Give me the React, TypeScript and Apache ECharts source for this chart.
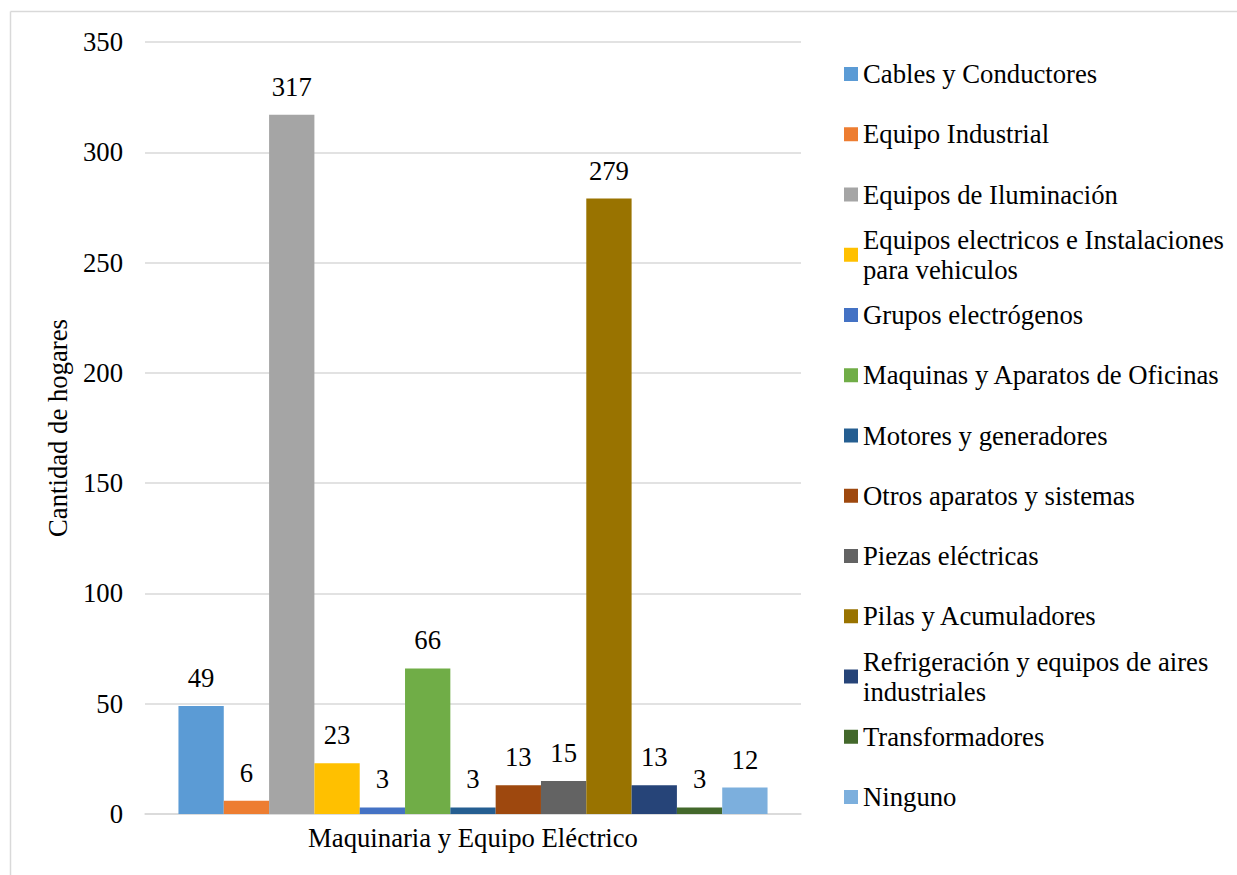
import React, { useEffect, useRef } from "react";
import * as echarts from "echarts";

const categories = ["Maquinaria y Equipo Eléctrico"];
const seriesNames = [
  "Cables y Conductores",
  "Equipo Industrial",
  "Equipos de Iluminación",
  "Equipos electricos e Instalaciones para vehiculos",
  "Grupos electrógenos",
  "Maquinas y Aparatos de Oficinas",
  "Motores y generadores",
  "Otros aparatos y sistemas",
  "Piezas eléctricas",
  "Pilas y Acumuladores",
  "Refrigeración y equipos de aires industriales",
  "Transformadores",
  "Ninguno",
];
const seriesValues = [49, 6, 317, 23, 3, 66, 3, 13, 15, 279, 13, 3, 12];
const legendLines: string[][] = [
  ["Cables y Conductores"],
  ["Equipo Industrial"],
  ["Equipos de Iluminación"],
  ["Equipos electricos e Instalaciones", "para vehiculos"],
  ["Grupos electrógenos"],
  ["Maquinas y Aparatos de Oficinas"],
  ["Motores y generadores"],
  ["Otros aparatos y sistemas"],
  ["Piezas eléctricas"],
  ["Pilas y Acumuladores"],
  ["Refrigeración y equipos de aires", "industriales"],
  ["Transformadores"],
  ["Ninguno"],
];
const colors = [
  "#5B9BD5",
  "#ED7D31",
  "#A5A5A5",
  "#FFC000",
  "#4472C4",
  "#70AD47",
  "#255E91",
  "#9E480E",
  "#636363",
  "#997300",
  "#264478",
  "#43682B",
  "#7CAFDD",
];
const yTicks = { min: 0, max: 350, interval: 50 };
const yAxisTitle = "Cantidad de hogares";

const FONT = "Liberation Serif, Times New Roman, serif";
const FS = 26.7;

export default function App() {
  const ref = useRef<HTMLDivElement>(null);
  useEffect(() => {
    if (!ref.current) return;
    const chart = echarts.init(ref.current, undefined, { renderer: "svg" });
    const legendTop0 = 74;
    const pitch = 60.25;
    const lineH = 30;
    const legends = seriesNames.map((name, i) => {
      const lines = legendLines[i];
      const multi = lines.length > 1;
      const center = legendTop0 + i * pitch;
      return {
        show: true,
        left: 844,
        top: multi ? center - 45 : center - lineH / 2,
        orient: "vertical",
        data: [name],
        itemWidth: 14,
        itemHeight: 14,
        itemGap: 0,
        padding: 0,
        icon: "rect",
        selectedMode: false,
        formatter: () => lines.join("\n"),
        textStyle: {
          fontFamily: FONT,
          fontSize: FS,
          color: "#000",
          lineHeight: lineH,
          padding: multi ? [lineH, 0, 0, 0] : 0,
        },
      };
    });
    chart.setOption({
      animation: false,
      backgroundColor: "#fff",
      textStyle: { fontFamily: FONT },
      graphic: [
        {
          type: "line",
          shape: { x1: 10.5, y1: 11.5, x2: 1240, y2: 11.5 },
          style: { stroke: "#d9d9d9", lineWidth: 1.5 },
          silent: true,
        },
        {
          type: "line",
          shape: { x1: 10.5, y1: 11.5, x2: 10.5, y2: 880 },
          style: { stroke: "#d9d9d9", lineWidth: 1.5 },
          silent: true,
        },
      ],
      legend: legends,
      grid: { left: 145, right: 436, top: 42, bottom: 61 },
      xAxis: {
        type: "category",
        data: categories,
        axisLine: { show: true, lineStyle: { color: "#d9d9d9", width: 1.5 } },
        axisTick: { show: false },
        axisLabel: { fontFamily: FONT, fontSize: FS, color: "#000", margin: 10 },
      },
      yAxis: {
        type: "value",
        min: yTicks.min,
        max: yTicks.max,
        interval: yTicks.interval,
        name: yAxisTitle,
        nameLocation: "middle",
        nameRotate: 90,
        nameGap: 74,
        nameTextStyle: { fontFamily: FONT, fontSize: FS, color: "#000" },
        axisLine: { show: false },
        axisTick: { show: false },
        axisLabel: { fontFamily: FONT, fontSize: FS, color: "#000", margin: 22 },
        splitLine: { lineStyle: { color: "#d9d9d9", width: 1.5 } },
      },
      series: seriesNames.map((name, i) => ({
        name,
        type: "bar",
        data: [seriesValues[i]],
        itemStyle: { color: colors[i] },
        barGap: "0%",
        barCategoryGap: "10.2%",
        label: {
          show: true,
          position: "top",
          distance: 14.5,
          fontFamily: FONT,
          fontSize: FS,
          color: "#000",
        },
      })),
    });
    return () => chart.dispose();
  }, []);
  return (
    <div
      ref={ref}
      style={{ position: "absolute", left: 0, top: 0, width: 1237, height: 875 }}
    />
  );
}
